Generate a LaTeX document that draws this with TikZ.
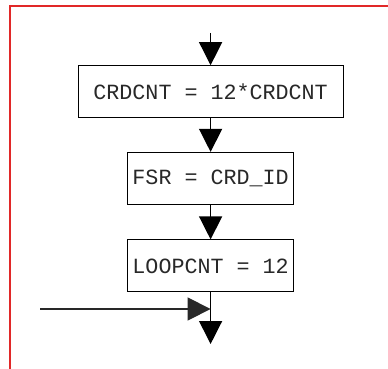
\documentclass[tikz,border=0pt]{standalone}
\usepackage{fontspec}
\setmonofont{Liberation Mono}
\usetikzlibrary{arrows.meta}
\definecolor{frame}{RGB}{225,40,40}
\definecolor{ink}{RGB}{40,40,40}
\tikzset{
  stepbox/.style={draw=black, line width=1pt, minimum height=52pt, inner sep=0pt,
    font=\ttfamily\fontsize{21.7}{24}\selectfont, text=ink},
  flow/.style={line width=1.3pt, draw=black,
    -{Triangle[length=23pt, width=23pt]}},
}
\begin{document}
\begin{tikzpicture}[x=1pt, y=-1pt]
  \useasboundingbox (0,0) rectangle (388,369);
  \fill[white] (0,0) rectangle (388,369);
  % outer frame (open to the right and bottom)
  \draw[frame, line width=1.5pt] (10,369) -- (10,6) -- (388,6);

  % process steps
  \node[stepbox, minimum width=265pt] (b1) at (210.6,91.7) {CRDCNT = 12*CRDCNT};
  \node[stepbox, minimum width=166pt] (b2) at (210.6,178.4) {FSR = CRD\_ID};
  \node[stepbox, minimum width=166pt] (b3) at (210.6,265.9) {LOOPCNT = 12};

  % loose ends of the flow
  \coordinate (in)   at (210.6,33);
  \coordinate (out)  at (210.6,344);
  \coordinate (side) at (40,309);
  \coordinate (join) at (210.6,309);

  \draw[flow] (in) -- (b1.north);
  \draw[flow] (b1.south) -- (b2.north);
  \draw[flow] (b2.south) -- (b3.north);
  \draw[flow] (b3.south) -- (out);
  \draw[flow, draw=ink] (side) -- (join);
\end{tikzpicture}
\end{document}
